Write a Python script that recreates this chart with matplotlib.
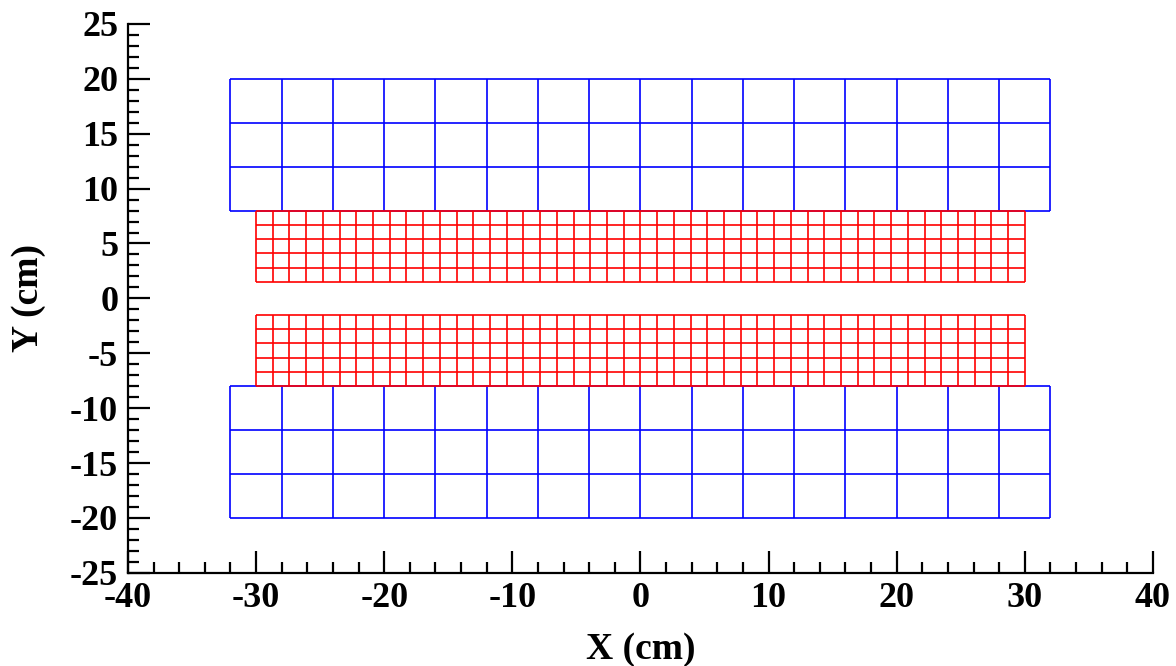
import matplotlib
matplotlib.use("Agg")
import matplotlib.pyplot as plt
import numpy as np
from matplotlib.ticker import MultipleLocator

# detector geometry (cm)
BLUE_X_RANGE = [-32, 32]
BLUE_NCOLS = 16
BLUE_TOP_Y = [8, 20]
BLUE_BOT_Y = [-20, -8]
BLUE_NROWS = 3

RED_X_RANGE = [-30, 30]
RED_NCOLS = 46
RED_TOP_Y = [1.48, 8]
RED_BOT_Y = [-8, -1.48]
RED_NROWS = 5

X_LIM = [-40, 40]
Y_LIM = [-25, 25]
X_TICKS = [-40, -30, -20, -10, 0, 10, 20, 30, 40]
Y_TICKS = [-25, -20, -15, -10, -5, 0, 5, 10, 15, 20, 25]

plt.rcParams["font.family"] = ["Liberation Serif", "DejaVu Serif"]
plt.rcParams["font.weight"] = "bold"
plt.rcParams["axes.unicode_minus"] = False


def draw_block(ax, xr, yr, ncols, nrows, color, lw):
    xe = np.linspace(xr[0], xr[1], ncols + 1)
    ye = np.linspace(yr[0], yr[1], nrows + 1)
    ax.vlines(xe, yr[0], yr[1], colors=color, linewidth=lw)
    ax.hlines(ye, xr[0], xr[1], colors=color, linewidth=lw)


fig = plt.figure(figsize=(11.76, 6.66), dpi=100)
ax = fig.add_axes([0.1088, 0.140, 0.8716, 0.824])

draw_block(ax, BLUE_X_RANGE, BLUE_TOP_Y, BLUE_NCOLS, BLUE_NROWS, "#0000ff", 1.2)
draw_block(ax, BLUE_X_RANGE, BLUE_BOT_Y, BLUE_NCOLS, BLUE_NROWS, "#0000ff", 1.2)
draw_block(ax, RED_X_RANGE, RED_TOP_Y, RED_NCOLS, RED_NROWS, "#ff0000", 1.2)
draw_block(ax, RED_X_RANGE, RED_BOT_Y, RED_NCOLS, RED_NROWS, "#ff0000", 1.2)

ax.set_xlim(X_LIM)
ax.set_ylim(Y_LIM)
ax.set_xticks(X_TICKS)
ax.set_yticks(Y_TICKS)
ax.xaxis.set_minor_locator(MultipleLocator(2))
ax.yaxis.set_minor_locator(MultipleLocator(1))

for side in ["top", "right"]:
    ax.spines[side].set_visible(False)
for side in ["left", "bottom"]:
    ax.spines[side].set_linewidth(1.6)

ax.tick_params(which="major", direction="in", length=16, width=1.6,
               labelsize=26, pad=7)
ax.tick_params(which="minor", direction="in", length=8, width=1.6)
for lab in ax.get_xticklabels() + ax.get_yticklabels():
    lab.set_fontweight("bold")

ax.set_xlabel("X (cm)", fontsize=27, fontweight="bold", labelpad=12)
ax.set_ylabel("Y (cm)", fontsize=27, fontweight="bold", labelpad=17)

fig.savefig("out.png", dpi=100)
